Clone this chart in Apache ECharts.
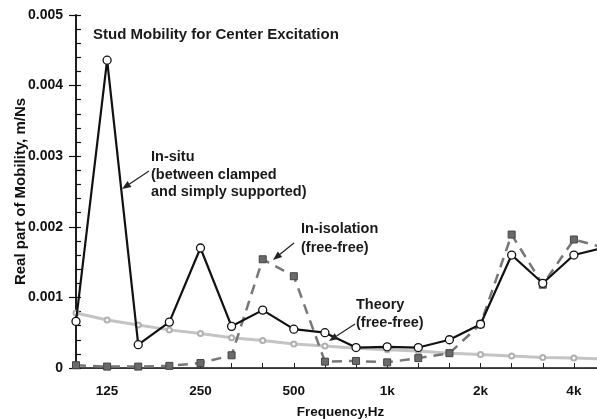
<!DOCTYPE html>
<html>
<head>
<meta charset="utf-8">
<script src="https://cdn.jsdelivr.net/npm/echarts@6/dist/echarts.min.js"></script>
<style>
html,body{margin:0;padding:0;background:#fff;}
#chart{width:597px;height:419px;}
</style>
</head>
<body>
<div id="chart"></div>
<script>
// 1/3-octave band centre frequencies (Hz)
const frequencies = [100,125,160,200,250,315,400,500,630,800,1000,1250,1600,2000,2500,3150,4000,5000];
// tick labels shown on the frequency axis
const xTickLabels = {125:'125',250:'250',500:'500',1000:'1k',2000:'2k',4000:'4k'};
// Real part of mobility, m/Ns
const inSitu      = [0.00066,0.00436,0.00033,0.00065,0.00170,0.00059,0.00082,0.00055,0.00050,0.00029,0.00030,0.00029,0.00040,0.00062,0.00160,0.00120,0.00160,0.00171];
const inIsolation = [0.00004,0.00002,0.00002,0.00003,0.00007,0.00018,0.00154,0.00130,0.00009,0.00010,0.00008,0.00014,0.00021,0.00062,0.00189,0.00118,0.00182,0.00170];
const theory      = [0.00078,0.00068,0.00061,0.00054,0.00049,0.00043,0.00039,0.00034,0.00031,0.00028,0.00026,0.00024,0.00021,0.00019,0.00017,0.00015,0.00014,0.00013];
const yTicks = [0,0.001,0.002,0.003,0.004,0.005];

const FONT = '"Liberation Sans", Arial, sans-serif';
const chart = echarts.init(document.getElementById('chart'), null, {renderer:'canvas'});

function arrow(x1,y1,x2,y2){
  const a = Math.atan2(y2-y1,x2-x1), L=9, W=3.5;
  const bx = x2 - L*Math.cos(a), by = y2 - L*Math.sin(a);
  const px = -Math.sin(a)*W, py = Math.cos(a)*W;
  return [
    {type:'line',shape:{x1:x1,y1:y1,x2:bx,y2:by},style:{stroke:'#222',lineWidth:1.2},z:100},
    {type:'polygon',shape:{points:[[x2,y2],[bx+px,by+py],[bx-px,by-py]]},style:{fill:'#222'},z:100}
  ];
}
function txt(x,y,t,size){
  return {type:'text',x:x,y:y,style:{text:t,font:'bold '+(size||14.5)+'px '+FONT,fill:'#1a1a1a',textVerticalAlign:'middle'},z:100};
}

const cats = frequencies.map(String);

const option = {
  backgroundColor:'#fff',
  animation:false,
  grid:{left:76,right:-8,top:15,bottom:51,containLabel:false,outerBoundsMode:'none'},
  xAxis:[{
    type:'category',data:cats,boundaryGap:false,
    axisLine:{lineStyle:{color:'#111',width:1.5}},
    axisTick:{show:true,inside:true,length:5,interval:0,lineStyle:{color:'#222'}},
    axisLabel:{interval:0,formatter:v=>xTickLabels[v]||'',color:'#111',fontFamily:FONT,fontWeight:'bold',fontSize:13.5,margin:16},
    splitLine:{show:false},
    name:'Frequency,Hz',nameLocation:'middle',nameGap:37,
    nameTextStyle:{color:'#111',fontFamily:FONT,fontWeight:'bold',fontSize:13.5}
  },{
    type:'category',data:cats,boundaryGap:false,position:'top',
    axisLine:{lineStyle:{color:'#333',width:1,type:'dotted'}},
    axisTick:{show:false},axisLabel:{show:false}
  }],
  yAxis:[{
    type:'value',min:0,max:0.005,interval:0.001,
    axisLine:{show:true,lineStyle:{color:'#111',width:1.5}},
    axisTick:{show:true,length:7,lineStyle:{color:'#111',width:1.2}},
    axisLabel:{formatter:v=>{const t=yTicks.find(k=>Math.abs(k-v)<1e-9);return t===0?'0':t.toFixed(3);},color:'#111',fontFamily:FONT,fontWeight:'bold',fontSize:14,margin:13},
    splitLine:{show:false},
    name:'Real part of Mobility, m/Ns',nameLocation:'middle',nameGap:48,nameRotate:90,nameMoveOverlap:false,
    nameTextStyle:{color:'#111',fontFamily:FONT,fontWeight:'bold',fontSize:15}
  },{
    type:'value',min:0,max:0.005,interval:0.0002,position:'left',
    axisLine:{show:true,lineStyle:{color:'#111',width:1.5}},
    axisTick:{show:true,inside:true,length:5,lineStyle:{color:'#111',width:1.2}},
    axisLabel:{show:false},splitLine:{show:false}
  }],
  series:[
    {name:'Theory',type:'line',data:theory,symbol:'emptyCircle',symbolSize:5,
      lineStyle:{color:'#c4c4c4',width:3},itemStyle:{color:'#b0b0b0',borderColor:'#b0b0b0'},z:2},
    {name:'In-isolation',type:'line',data:inIsolation,symbol:'rect',symbolSize:7,
      lineStyle:{color:'#777',width:2.5,type:[10,7]},itemStyle:{color:'#6a6a6a',borderColor:'#444',borderWidth:1},z:3},
    {name:'In-situ',type:'line',data:inSitu,symbol:'circle',symbolSize:8,
      lineStyle:{color:'#111',width:2.2},itemStyle:{color:'#fff',borderColor:'#111',borderWidth:1.3},z:4}
  ],
  graphic:[
    txt(93,35,'Stud Mobility for Center Excitation',15),
    txt(151,157,'In-situ'),
    txt(151,175,'(between clamped'),
    txt(151,192,'and simply supported)'),
    ...arrow(149,171,122,189),
    txt(301,229,'In-isolation'),
    txt(301,248,'(free-free)'),
    ...arrow(294,243,273,260),
    txt(356,305,'Theory'),
    txt(356,323,'(free-free)'),
    ...arrow(355,324,329,341)
  ]
};
chart.setOption(option);
</script>
</body>
</html>
